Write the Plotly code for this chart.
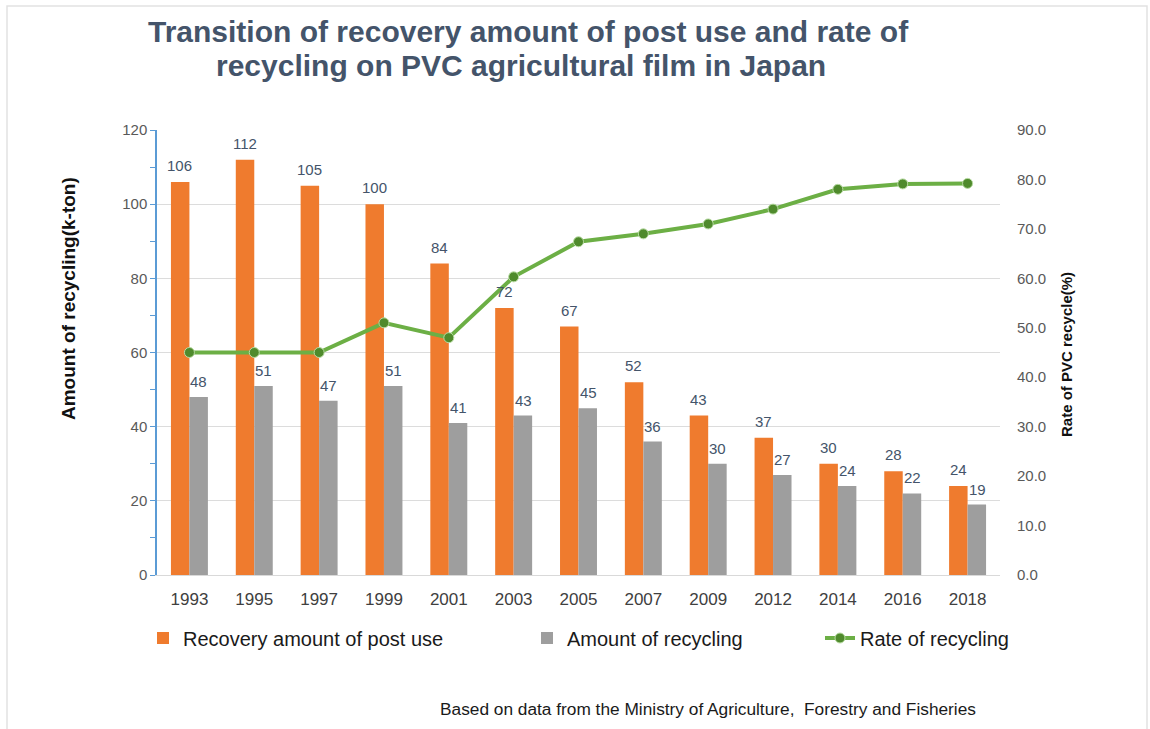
import plotly.graph_objects as go

years = ['1993', '1995', '1997', '1999', '2001', '2003', '2005', '2007', '2009', '2012', '2014', '2016', '2018']
recovery = [106, 112, 105, 100, 84, 72, 67, 52, 43, 37, 30, 28, 24]
recycled = [48, 51, 47, 51, 41, 43, 45, 36, 30, 27, 24, 22, 19]
rate = [45.0, 45.0, 45.0, 51.0, 48.0, 60.3, 67.4, 69.0, 71.0, 74.0, 78.0, 79.1, 79.2]

left_ticks = [0, 20, 40, 60, 80, 100, 120]
right_ticks = [0, 10, 20, 30, 40, 50, 60, 70, 80, 90]

title_lines = ['Transition of recovery amount of post use and rate of',
               'recycling on PVC agricultural film in Japan']

FONT = "Liberation Sans, Arial, sans-serif"
W, H = 1150, 729
L, R, T, B = 157, 150, 130, 154
PW, PH = W - L - R, H - T - B


def px_x(px):
    return (px - L) / PW


def px_y(py):
    return (H - B - py) / PH


fig = go.Figure()

fig.add_trace(go.Bar(
    x=years, y=recovery, name='Recovery amount of post use',
    marker=dict(color='#EF7B2E', line=dict(width=0)),
    legend='legend'))

fig.add_trace(go.Bar(
    x=years, y=recycled, name='Amount of recycling',
    marker=dict(color='#9E9E9E', line=dict(width=0)),
    legend='legend2'))

fig.add_trace(go.Scatter(
    x=years, y=rate, name='Rate of recycling', yaxis='y2',
    mode='lines+markers',
    line=dict(color='#6CAF45', width=4),
    marker=dict(color='#4F8A2C', size=10, line=dict(color='#B9DCA4', width=1)),
    cliponaxis=False, legend='legend3'))

# data labels above each bar (left bar = recovery, right bar = recycling);
# x given as the category index of each year on the category axis
for i, v in enumerate(recovery):
    fig.add_annotation(x=i, y=v, xref='x', yref='y', text=str(v), showarrow=False,
                       xanchor='center', yanchor='bottom', xshift=-9.5, yshift=6,
                       font=dict(family=FONT, size=15, color='#44546A'))
for i, v in enumerate(recycled):
    fig.add_annotation(x=i, y=v, xref='x', yref='y', text=str(v), showarrow=False,
                       xanchor='center', yanchor='bottom', xshift=9.5, yshift=5,
                       font=dict(family=FONT, size=15, color='#44546A'))

legend_common = dict(orientation='h', yanchor='middle', y=px_y(638), xanchor='left',
                     font=dict(family=FONT, size=20, color='#1a1a1a'),
                     bgcolor='rgba(0,0,0,0)', itemwidth=30)

fig.update_layout(
    width=W, height=H, autosize=False,
    margin=dict(l=L, r=R, t=T, b=B, pad=0),
    paper_bgcolor='white', plot_bgcolor='white',
    font=dict(family=FONT, color='#595959'),
    barmode='group', bargap=0.43, bargroupgap=0,
    xaxis=dict(
        type='category', range=[-0.5, len(years) - 0.5], showgrid=False, zeroline=False,
        showline=True, linecolor='#D9D9D9', linewidth=1,
        ticks='outside', ticklen=9, tickcolor='rgba(0,0,0,0)',
        tickfont=dict(family=FONT, size=17, color='#404040')),
    yaxis=dict(
        range=[0, 120], tickvals=left_ticks, showgrid=True, gridcolor='#DCDCDC', gridwidth=1,
        zeroline=False, showline=True, linecolor='#5B9BD5', linewidth=1.5,
        ticks='outside', ticklen=5, tickcolor='#5B9BD5', tickwidth=1,
        minor=dict(dtick=10, ticks='outside', ticklen=5, tickcolor='#5B9BD5', showgrid=False),
        tickfont=dict(family=FONT, size=15, color='#595959')),
    yaxis2=dict(
        range=[0, 90], tickvals=right_ticks, tickformat='.1f', overlaying='y', side='right',
        showgrid=False, zeroline=False, showline=False,
        ticks='outside', ticklen=13, tickcolor='rgba(0,0,0,0)',
        tickfont=dict(family=FONT, size=15, color='#595959')),
    legend=dict(legend_common, x=px_x(143)),
    legend2=dict(legend_common, x=px_x(527)),
    legend3=dict(legend_common, x=px_x(820)),
    showlegend=True,
)

for txt, cx, cy in zip(title_lines, [528, 521], [31, 66]):
    fig.add_annotation(
        text='<b>' + txt + '</b>', xref='paper', yref='paper',
        x=px_x(cx), y=px_y(cy), xanchor='center', yanchor='middle', showarrow=False,
        font=dict(family=FONT, size=30, color='#44546A'))

fig.add_annotation(
    text='<b>Amount of recycling(k-ton)</b>', textangle=-90,
    xref='paper', yref='paper', x=px_x(68), y=px_y(299),
    xanchor='center', yanchor='middle', showarrow=False,
    font=dict(family=FONT, size=19, color='#111111'))

fig.add_annotation(
    text='<b>Rate of PVC recycle(%)</b>', textangle=-90,
    xref='paper', yref='paper', x=px_x(1066), y=px_y(355),
    xanchor='center', yanchor='middle', showarrow=False,
    font=dict(family=FONT, size=15, color='#111111'))

fig.add_annotation(
    text='Based on data from the Ministry of Agriculture,  Forestry and Fisheries',
    xref='paper', yref='paper', x=px_x(438), y=px_y(709),
    xanchor='left', yanchor='middle', showarrow=False,
    font=dict(family=FONT, size=17.3, color='#1a1a1a'))

fig.add_shape(type='rect', xref='paper', yref='paper',
              x0=px_x(7), x1=px_x(1147), y0=px_y(740), y1=px_y(6),
              line=dict(color='#E2E2E2', width=1.5), fillcolor='rgba(0,0,0,0)', layer='below')

fig.write_html('out.html')
